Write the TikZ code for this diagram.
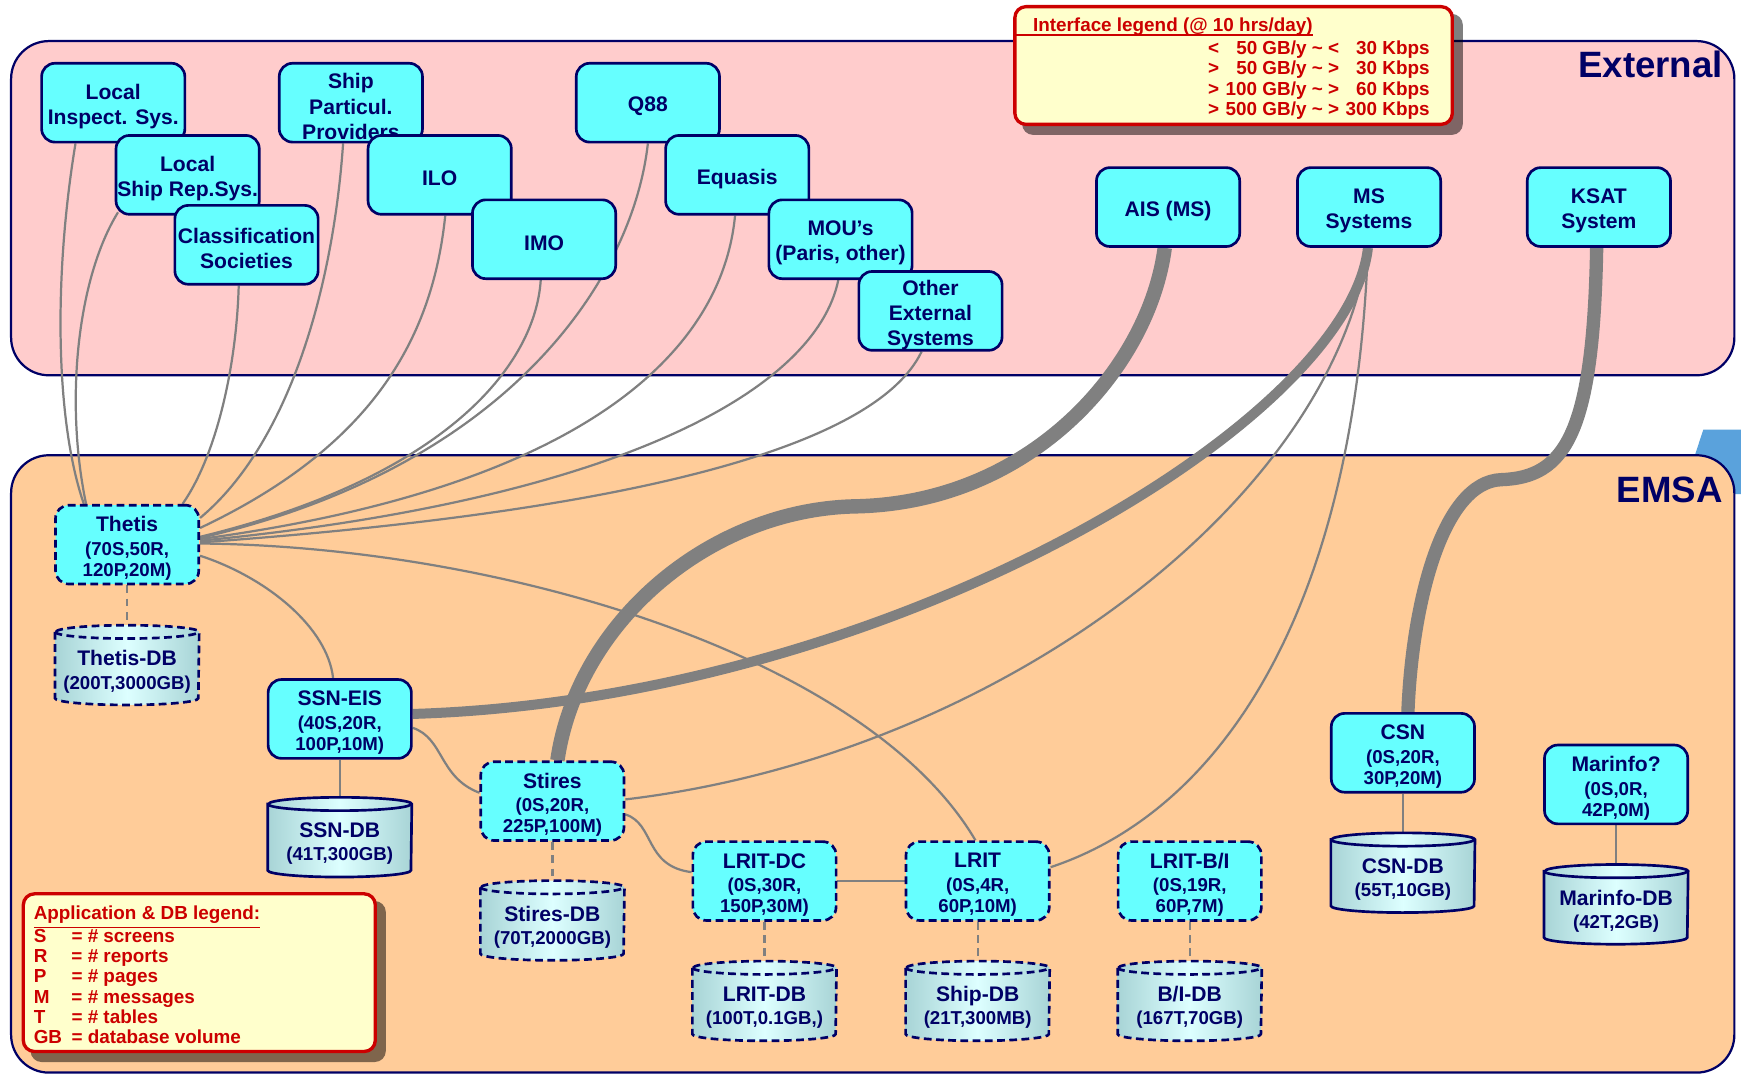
\documentclass[tikz,border=0pt]{standalone}
\usepackage{fontspec}
\setmainfont{Liberation Sans}
\usetikzlibrary{calc}
\definecolor{navy}{HTML}{000066}
\definecolor{boxcyan}{HTML}{66FFFF}
\definecolor{extpink}{HTML}{FFCCCC}
\definecolor{emsaorange}{HTML}{FFCC99}
\definecolor{linegray}{HTML}{808080}
\definecolor{legred}{HTML}{CC0000}
\definecolor{legfill}{HTML}{FFFFCC}
\definecolor{cyledge}{HTML}{A8D4D6}
\definecolor{cylmid}{HTML}{DDFFFF}
\definecolor{bgblue}{HTML}{5AA2DC}

\pgfdeclarelayer{bg}
\pgfdeclarelayer{conn}
\pgfsetlayers{bg,conn,main}

\newcommand\ftitle{\fontsize{9.5}{11.3}\selectfont\bfseries}
\newcommand\fsub{\fontsize{8.4}{9.5}\selectfont\bfseries}
\newcommand\fleg{\fontsize{8.5}{9.1}\selectfont\bfseries}
\newcommand\fregion{\fontsize{16.5}{19}\selectfont\bfseries}

% box node with its text set a little below the centre
\newcommand\sysbox[5]{% box style, text style, name, position, text
  \node[#1] (#3) at (#4) {};
  \node[#2] (#3-t) at ([yshift=-1.7pt]#3.center) {#5};
}

\newcommand\dbcyl[5]{%
  \node[dbbox] (#1) at (#2) {};
  \draw[#3, left color=cyledge, right color=cyledge, middle color=cylmid]
    ($(#1.north west)+(0,6)$) -- ($(#1.south west)+(0,-6)$)
    arc[start angle=180, end angle=360, x radius=32.25pt, y radius=3pt]
    -- ($(#1.north east)+(0,6)$)
    arc[start angle=0, end angle=180, x radius=32.25pt, y radius=3pt] -- cycle;
  \draw[#3] ($(#1.north west)+(0,6)$) arc[start angle=180, end angle=360, x radius=32.25pt, y radius=3pt];
  \node[apptext] (#1-t) at ([yshift=-3pt]#1.center) {{\ftitle #4}\\[1pt]#5};
}

\tikzset{
  boxbase/.style={draw=navy, line width=1.2pt, fill=boxcyan, rounded corners=6pt,
    minimum width=64.5pt, minimum height=35.5pt, inner sep=0pt},
  extbox/.style={boxbase},
  appbox/.style={boxbase},
  appdash/.style={boxbase, dash pattern=on 3.5pt off 2pt},
  exttext/.style={inner sep=0pt, align=center, text=navy, font=\ftitle},
  apptext/.style={inner sep=0pt, align=center, text=navy, font=\fsub},
  dbbox/.style={minimum width=64.5pt, minimum height=35.5pt, inner sep=0pt},
  dbsolid/.style={draw=navy, line width=1.2pt},
  dbdash/.style={draw=navy, line width=1.2pt, dash pattern=on 3.5pt off 2pt},
  wire/.style={draw=linegray, line width=1pt},
  wiredash/.style={wire, dash pattern=on 3.5pt off 2.5pt},
  fatwire/.style={draw=linegray, line width=#1},
  region/.style={draw=navy, line width=1pt, rounded corners=17pt},
  legbox/.style={draw=legred, line width=1.5pt, fill=legfill, rounded corners=5pt},
  legshadow/.style={fill=black, fill opacity=0.5, rounded corners=5pt},
}

\begin{document}
\begin{tikzpicture}[x=0.5pt, y=-0.5pt]
\useasboundingbox (0,0) rectangle (1568,967);

\begin{pgfonlayer}{bg}
  \fill[white] (0,0) rectangle (1568,967);
  \fill[bgblue] (1534,387) -- (1568,387) -- (1568,445) -- (1515,445) -- cycle;
  \draw[region, fill=extpink] (10,37) rectangle (1562,338);
  \draw[region, fill=emsaorange] (10,410) rectangle (1562,966);
\end{pgfonlayer}

\node[anchor=east, text=navy, font=\fregion, inner sep=0pt] (extlabel) at (1552,58) {External};
\node[anchor=east, text=navy, font=\fregion, inner sep=0pt] (emsalabel) at (1552,441) {EMSA};

% external systems
\sysbox{extbox}{exttext}{lis}{102,92.5}{Local\\Inspect. Sys.}
\sysbox{extbox}{exttext}{spp}{316,92.5}{Ship\\Particul.\\Providers}
\sysbox{extbox}{exttext}{q88}{583.5,92.5}{Q88}
\sysbox{extbox}{exttext}{lsr}{169,157.5}{Local\\Ship Rep.Sys.}
\sysbox{extbox}{exttext}{ilo}{396,157.5}{ILO}
\sysbox{extbox}{exttext}{equ}{664,157.5}{Equasis}
\sysbox{extbox}{exttext}{cls}{222,220.5}{Classification\\Societies}
\sysbox{extbox}{exttext}{imo}{490,215.5}{IMO}
\sysbox{extbox}{exttext}{mou}{757,215.5}{MOU’s\\(Paris, other)}
\sysbox{extbox}{exttext}{oes}{838,280}{Other\\External\\Systems}
\sysbox{extbox}{exttext}{ais}{1052,186.5}{AIS (MS)}
\sysbox{extbox}{exttext}{mss}{1233,186.5}{MS\\Systems}
\sysbox{extbox}{exttext}{ksat}{1440,186.5}{KSAT\\System}

% EMSA applications
\sysbox{appdash}{apptext}{thetis}{114.5,490.5}{{\ftitle Thetis}\\[1pt](70S,50R,\\120P,20M)}
\sysbox{appbox}{apptext}{ssn}{306,647.5}{{\ftitle SSN-EIS}\\[1pt](40S,20R,\\100P,10M)}
\sysbox{appdash}{apptext}{stires}{497.5,721.5}{{\ftitle Stires}\\[1pt](0S,20R,\\225P,100M)}
\sysbox{appdash}{apptext}{lritdc}{688.5,793.5}{{\ftitle LRIT-DC}\\[1pt](0S,30R,\\150P,30M)}
\sysbox{appdash}{apptext}{lrit}{880.5,793.5}{{\ftitle LRIT}\\[1pt](0S,4R,\\60P,10M)}
\sysbox{appdash}{apptext}{lritbi}{1071.5,793.5}{{\ftitle LRIT-B/I}\\[1pt](0S,19R,\\60P,7M)}
\sysbox{appbox}{apptext}{csn}{1263.5,678}{{\ftitle CSN}\\[1pt](0S,20R,\\30P,20M)}
\sysbox{appbox}{apptext}{marinfo}{1455.5,706.5}{{\ftitle Marinfo?}\\[1pt](0S,0R,\\42P,0M)}

% databases
\dbcyl{thetisdb}{114.5,599}{dbdash}{Thetis-DB}{(200T,3000GB)}
\dbcyl{ssndb}{306,754}{dbsolid}{SSN-DB}{(41T,300GB)}
\dbcyl{stiresdb}{497.5,829}{dbdash}{Stires-DB}{(70T,2000GB)}
\dbcyl{lritdb}{688.5,901.5}{dbdash}{LRIT-DB}{(100T,0.1GB,)}
\dbcyl{shipdb}{880.5,901.5}{dbdash}{Ship-DB}{(21T,300MB)}
\dbcyl{bidb}{1071.5,901.5}{dbdash}{B/I-DB}{(167T,70GB)}
\dbcyl{csndb}{1263.5,786}{dbsolid}{CSN-DB}{(55T,10GB)}
\dbcyl{marinfodb}{1455.5,814.5}{dbsolid}{Marinfo-DB}{(42T,2GB)}

% interface legend
\node[legbox, minimum width=197pt, minimum height=53pt] (ilegend) at (1111,59) {};
\node[anchor=base west, text=legred, font=\fleg, inner sep=0pt] (ititle) at (930,28.5) {Interface legend (@ 10 hrs/day)};
\coordinate (iul) at (ilegend.west |- ititle.base);
\draw[legred, line width=0.6pt] ($(iul)+(2,3)$) -- ($(ititle.base east)+(0,3)$);
\node[anchor=east, text=legred, font=\fleg, inner sep=0pt] (irows) at (1288,73) {%
  \begin{tabular}{@{}l@{\hspace{3pt}}r@{}l@{\hspace{3pt}}r@{}l@{}}
  < & 50 & \ GB/y \textasciitilde{} < & 30 & \ Kbps\\
  > & 50 & \ GB/y \textasciitilde{} > & 30 & \ Kbps\\
  > & 100 & \ GB/y \textasciitilde{} > & 60 & \ Kbps\\
  > & 500 & \ GB/y \textasciitilde{} > & 300 & \ Kbps
  \end{tabular}};

% application legend
\node[legbox, minimum width=158.5pt, minimum height=71pt] (alegend) at (179.5,876) {};
\node[anchor=west, text=legred, font=\fleg, inner sep=0pt] (arows) at (30,880.5) {%
  \begin{tabular}{@{}l@{}l@{}}
  \multicolumn{2}{@{}l@{}}{\underline{Application \& DB legend:}}\\
  \makebox[17pt][l]{S} & = \# screens\\
  \makebox[17pt][l]{R} & = \# reports\\
  \makebox[17pt][l]{P} & = \# pages\\
  \makebox[17pt][l]{M} & = \# messages\\
  \makebox[17pt][l]{T} & = \# tables\\
  \makebox[17pt][l]{GB} & = database volume
  \end{tabular}};

\begin{pgfonlayer}{conn}
  % shadows
  \fill[legshadow] ($(ilegend.north west)+(8,8)$) rectangle ($(ilegend.south east)+(8,8)$);
  \fill[legshadow] ($(alegend.north west)+(8,8)$) rectangle ($(alegend.south east)+(8,8)$);
  % external to Thetis
  \draw[wire] ($(lis.south)+(-34,0)$) .. controls (48,250) and (50,380) .. ($(thetis.north)+(-39,0)$);
  \draw[wire] ($(lsr.south west)+(3,-3)$) .. controls (70,250) and (58,360) .. ($(thetis.north)+(-37,0)$);
  \draw[wire] ($(cls.south)+(-7,0)$) .. controls (213,330) and (195,410) .. ($(thetis.north)+(50,0)$);
  \draw[wire] ($(spp.south)+(-7,0)$) .. controls (300,260) and (260,400) .. ($(thetis.east)+(0,-24)$);
  \draw[wire] ($(ilo.south)+(5,0)$) .. controls (390,300) and (340,400) .. ($(thetis.east)+(0,-15)$);
  \draw[wire] ($(imo.south)+(-3,0)$) .. controls (482,330) and (400,430) .. ($(thetis.east)+(0,-7)$);
  \draw[wire] (q88.south) .. controls (570,250) and (460,420) .. ($(thetis.east)+(0,-6)$);
  \draw[wire] ($(equ.south)+(-2,0)$) .. controls (650,320) and (520,440) .. ($(thetis.east)+(0,-5)$);
  \draw[wire] ($(mou.south)+(-2,0)$) .. controls (735,350) and (560,450) .. ($(thetis.east)+(0,-3.5)$);
  \draw[wire] ($(oes.south)+(-8,0)$) .. controls (790,400) and (580,460) .. ($(thetis.east)+(0,-2)$);
  % EMSA internal
  \draw[wire] ($(thetis.east)+(0,-1)$) .. controls (450,492) and (780,590) .. ($(lrit.north)+(-2,0)$);
  \draw[wire] ($(thetis.east)+(0,10)$) .. controls (240,520) and (295,565) .. ($(ssn.north)+(-6,0)$);
  \draw[wire] ($(ssn.east)+(0,8)$) .. controls (400,665) and (395,700) .. ($(stires.west)+(0,-7.5)$);
  \draw[wire] ($(stires.east)+(0,12)$) .. controls (590,742) and (580,780) .. ($(lritdc.west)+(0,-8)$);
  \draw[wire] (lritdc.east) -- (lrit.west);
  \draw[wire] ($(mss.south)+(-1,0)$) .. controls (1200,450) and (900,680) .. ($(stires.east)+(0,-1.5)$);
  \draw[wire] ($(mss.south)+(-1,0)$) .. controls (1220,550) and (1100,730) .. ($(lrit.east)+(0,-12.5)$);
  % thick links
  \coordinate (aisknee) at (772,456);
  \draw[fatwire=6.5pt] ($(ais.south)+(-3,0)$) .. controls (1035,330) and (930,452) .. (aisknee)
     .. controls (640,458) and (520,560) .. ($(stires.north)+(4.5,0)$);
  \draw[fatwire=4.5pt] ($(mss.south)+(-1,0)$) .. controls (1215,380) and (800,630) .. ($(ssn.east)+(0,-4.5)$);
  \coordinate (ksatknee) at (1352,432);
  \draw[fatwire=6pt] ($(ksat.south)+(-2,0)$) .. controls (1435,390) and (1410,430) .. (ksatknee)
     .. controls (1300,434) and (1272,540) .. ($(csn.north)+(4.5,0)$);
  % application to database
  \draw[wiredash] (thetis.south) -- (thetisdb.north);
  \draw[wire] (ssn.south) -- (ssndb.north);
  \draw[wiredash] (stires.south) -- (stiresdb.north);
  \draw[wiredash] (lritdc.south) -- (lritdb.north);
  \draw[wiredash] (lrit.south) -- (shipdb.north);
  \draw[wiredash] (lritbi.south) -- (bidb.north);
  \draw[wire] (csn.south) -- (csndb.north);
  \draw[wire] (marinfo.south) -- (marinfodb.north);
\end{pgfonlayer}
\end{tikzpicture}
\end{document}
